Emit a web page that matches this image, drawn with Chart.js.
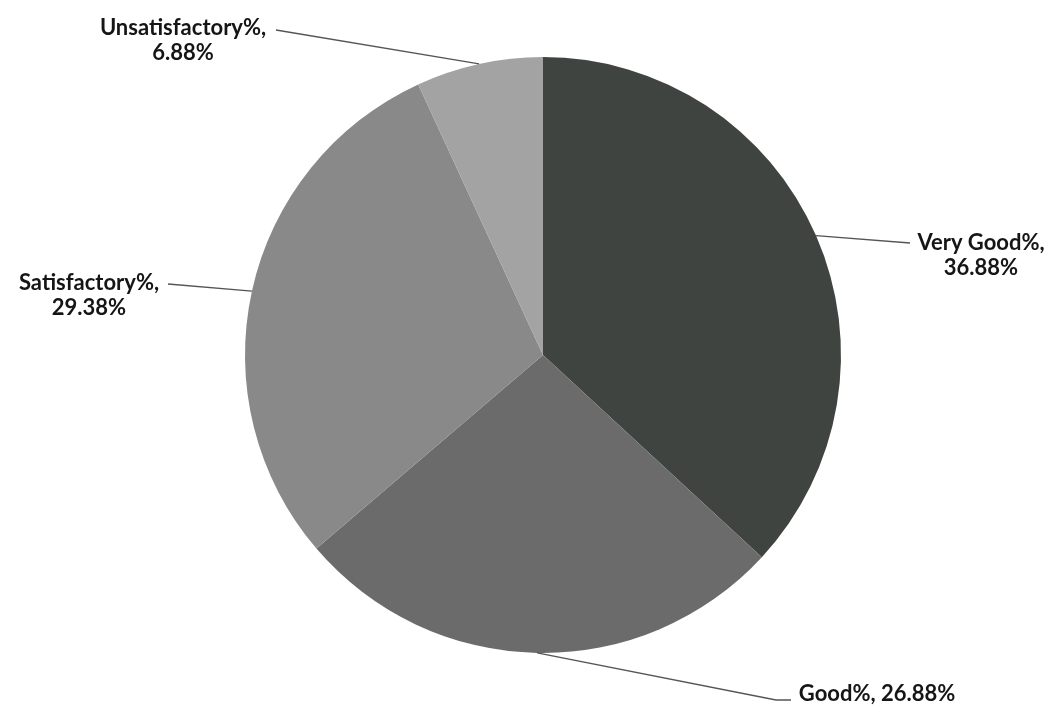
<!DOCTYPE html>
<html>
<head>
<meta charset="utf-8">
<script src="https://cdn.jsdelivr.net/npm/chart.js@4.4.0/dist/chart.umd.min.js"></script>
<style>
  html, body { margin: 0; padding: 0; background: #fff; }
  #wrap { width: 1061px; height: 707px; position: relative; }
</style>
</head>
<body>
<div id="wrap"><canvas id="pieChart"></canvas></div>
<script>
const categories = ['Very Good%', 'Good%', 'Satisfactory%', 'Unsatisfactory%'];
const percentages = [36.88, 26.88, 29.38, 6.88];
const sliceColors = ['#3f4441', '#6b6b6b', '#898989', '#a3a3a3'];

// where each label text sits and where its leader line ends
const labelSpots = [
    { lines: ['Very Good%,', '36.88%'], x: 981, y: 243, lineEnd: [910, 243] },
    { lines: ['Good%, 26.88%'], x: 877, y: 694, lineEnd: [791, 700], tail: [776, 700] },
    { lines: ['Satisfactory%,', '29.38%'], x: 89, y: 283, lineEnd: [168, 284] },
    { lines: ['Unsatisfactory%,', '6.88%'], x: 183, y: 28, lineEnd: [276, 30] }
];

const calloutPlugin = {
    id: 'callouts',
    afterDatasetsDraw(chart) {
        const ctx = chart.ctx;
        const arcs = chart.getDatasetMeta(0).data;
        ctx.save();
        arcs.forEach((arc, i) => {
            const spot = labelSpots[i];
            const mid = (arc.startAngle + arc.endAngle) / 2;
            const sx = arc.x + Math.cos(mid) * arc.outerRadius;
            const sy = arc.y + Math.sin(mid) * arc.outerRadius;

            ctx.strokeStyle = '#555';
            ctx.lineWidth = 1.3;
            ctx.beginPath();
            ctx.moveTo(sx, sy);
            if (spot.tail) {
                ctx.lineTo(spot.tail[0], spot.tail[1]);
            }
            ctx.lineTo(spot.lineEnd[0], spot.lineEnd[1]);
            ctx.stroke();

            ctx.fillStyle = '#151515';
            ctx.font = 'bold 22px Lato';
            ctx.textAlign = 'center';
            ctx.textBaseline = 'middle';
            spot.lines.forEach((txt, k) => {
                ctx.fillText(txt, spot.x, spot.y + k * 25);
            });
        });
        ctx.restore();
    }
};

new Chart(document.getElementById('pieChart'), {
    type: 'pie',
    data: {
        labels: categories,
        datasets: [{
            data: percentages,
            backgroundColor: sliceColors,
            borderWidth: 0
        }]
    },
    options: {
        responsive: true,
        maintainAspectRatio: false,
        animation: false,
        layout: { padding: { left: 245, right: 220, top: 57, bottom: 54 } },
        plugins: {
            legend: { display: false },
            tooltip: { enabled: false }
        }
    },
    plugins: [calloutPlugin]
});
</script>
</body>
</html>
